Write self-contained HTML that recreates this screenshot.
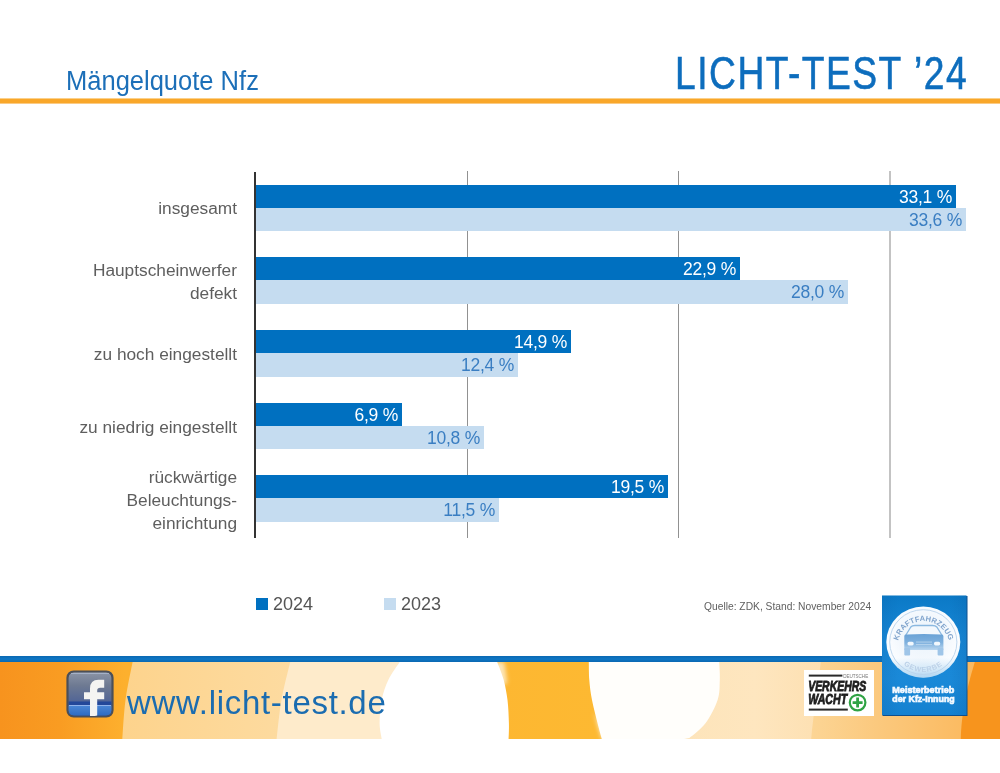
<!DOCTYPE html>
<html><head><meta charset="utf-8">
<style>
*{margin:0;padding:0;box-sizing:border-box}
html,body{width:1000px;height:773px;overflow:hidden;background:#fff}
body{position:relative;font-family:"Liberation Sans",sans-serif}
#wrap{position:absolute;left:0;top:0;width:1000px;height:773px;will-change:transform}
.abs{position:absolute}
#title{left:65.8px;top:65.7px;font-size:27px;color:#1c6fb8;white-space:nowrap;line-height:30px;transform-origin:0 0;transform:scaleX(0.945)}
#brand{left:675.2px;top:47.8px;font-size:46.5px;color:#0d6dbd;-webkit-text-stroke:0.6px #0d6dbd;letter-spacing:1.87px;white-space:nowrap;line-height:50px;transform-origin:0 0;transform:scaleX(0.8)}
#hline{left:0;top:98px;width:1000px;height:6px;background:linear-gradient(#fbd08a 0,#fbd08a 1px,#f9a72a 1px,#f9a72a 5px,#fbcb85 5px)}
.axis{left:254px;top:172px;width:2px;height:366px;background:#333}
.grid{top:171px;width:1px;height:367px;background:#919191}
.bar{left:256px;height:23px}
.d{background:#0070c0}
.l{background:#c5dcf0}
.val{position:absolute;right:4px;top:1px;font-size:17.5px;letter-spacing:-0.25px;line-height:23px;white-space:nowrap}
.d .val{color:#fff}
.l .val{color:#3a7ec2;top:1px}
.lab{right:763px;width:200px;text-align:right;font-size:17.3px;line-height:22.75px;color:#5e5e5e;white-space:nowrap;display:flex;flex-direction:column;justify-content:center;align-items:flex-end;height:120px}
.leg{font-size:18px;color:#555;line-height:20px;white-space:nowrap}
.sq{width:12px;height:12px}
#src{left:704px;top:598.5px;font-size:11px;color:#606060;white-space:nowrap;line-height:14px;transform-origin:0 0;transform:scaleX(0.933)}
#bline{left:0;top:656px;width:1000px;height:6px;background:linear-gradient(#0a68b2,#0e76c4 50%,#0a68b2)}
#band{left:0;top:662px;width:1000px;height:77px}
#url{left:127px;top:684.2px;font-size:33px;color:#1b6cb0;letter-spacing:0.7px;white-space:nowrap;line-height:38px}
</style></head><body><div id="wrap">
<div id="title" class="abs">Mängelquote Nfz</div>
<div id="brand" class="abs">LICHT-TEST ’24</div>
<div id="hline" class="abs"></div>

<!-- grid -->
<div class="abs grid" style="left:467px"></div>
<div class="abs grid" style="left:678px"></div>
<div class="abs grid" style="left:889px;width:2px;background:#c3c3c3"></div>

<!-- bars -->
<div class="abs bar d" style="top:185px;width:700px"><span class="val">33,1 %</span></div>
<div class="abs bar l" style="top:208px;width:710px"><span class="val">33,6 %</span></div>
<div class="abs bar d" style="top:257px;width:484px"><span class="val">22,9 %</span></div>
<div class="abs bar l" style="top:280px;width:592px;height:24px"><span class="val">28,0 %</span></div>
<div class="abs bar d" style="top:330px;width:315px"><span class="val">14,9 %</span></div>
<div class="abs bar l" style="top:353px;width:262px;height:24px"><span class="val">12,4 %</span></div>
<div class="abs bar d" style="top:403px;width:146px"><span class="val">6,9 %</span></div>
<div class="abs bar l" style="top:426px;width:228px"><span class="val">10,8 %</span></div>
<div class="abs bar d" style="top:475px;width:412px"><span class="val">19,5 %</span></div>
<div class="abs bar l" style="top:498px;width:243px;height:24px"><span class="val">11,5 %</span></div>

<div class="abs axis"></div>

<!-- labels -->
<div class="abs lab" style="top:148.5px">insgesamt</div>
<div class="abs lab" style="top:221.5px">Hauptscheinwerfer<br>defekt</div>
<div class="abs lab" style="top:294.5px">zu hoch eingestellt</div>
<div class="abs lab" style="top:367px">zu niedrig eingestellt</div>
<div class="abs lab" style="top:440.5px">rückwärtige<br>Beleuchtungs-<br>einrichtung</div>

<!-- legend -->
<div class="abs sq" style="left:256px;top:598px;background:#0070c0"></div>
<div class="abs leg" style="left:273px;top:594px">2024</div>
<div class="abs sq" style="left:384px;top:598px;background:#c5dcf0"></div>
<div class="abs leg" style="left:401px;top:594px">2023</div>
<div id="src" class="abs">Quelle: ZDK, Stand: November 2024</div>

<!-- footer -->
<div id="bline" class="abs"></div>
<svg id="band" class="abs" width="1000" height="77" viewBox="0 0 1000 77">
  <defs>
    <linearGradient id="gBase" x1="0" x2="1000" y1="0" y2="0" gradientUnits="userSpaceOnUse">
      <stop offset="0" stop-color="#f7931e"/>
      <stop offset="0.06" stop-color="#f99c22"/>
      <stop offset="0.125" stop-color="#fdb02e"/>
      <stop offset="0.6" stop-color="#fdb932"/>
      <stop offset="1" stop-color="#fdb932"/>
    </linearGradient>
    <linearGradient id="gA" x1="120" x2="290" y1="0" y2="0" gradientUnits="userSpaceOnUse">
      <stop offset="0" stop-color="#fdd38c"/>
      <stop offset="1" stop-color="#fddba0"/>
    </linearGradient>
    <linearGradient id="gE" x1="680" x2="830" y1="0" y2="0" gradientUnits="userSpaceOnUse">
      <stop offset="0" stop-color="#fde4ba"/>
      <stop offset="0.5" stop-color="#fee6bf"/>
      <stop offset="1" stop-color="#fddfb0"/>
    </linearGradient>
    <linearGradient id="gF" x1="810" x2="1000" y1="0" y2="0" gradientUnits="userSpaceOnUse">
      <stop offset="0" stop-color="#fcd595"/>
      <stop offset="0.35" stop-color="#fbc97e"/>
      <stop offset="0.8" stop-color="#fbbb62"/>
      <stop offset="1" stop-color="#fab558"/>
    </linearGradient>
    <filter id="halo" x="-50%" y="-50%" width="200%" height="200%"><feGaussianBlur stdDeviation="2"/></filter>
  </defs>
  <rect x="0" y="0" width="1000" height="77" fill="url(#gBase)"/>
  <path d="M132.6 0 C131.4 6.3 127.2 25.2 125.5 38 C123.8 50.8 122.8 70.5 122.3 77 L460 77 L460 0 Z" fill="url(#gA)"/>
  <path d="M290.2 0 C288.8 6.3 283.8 25.2 281.5 38 C279.2 50.8 277.4 70.5 276.6 77 L460 77 L460 0 Z" fill="#feebcb"/>
  <path d="M700 0 L1000 0 L1000 77 L680 77 Z" fill="url(#gE)"/>
  <path d="M820.8 0 C818 25 813 55 811.2 77 L1000 77 L1000 0 Z" fill="url(#gF)"/>
  <path d="M480 0 L504 0 C505 5 506.5 12 507 22 L500 22 Z" fill="#fde6b8" filter="url(#halo)"/>
  <path d="M594 50 C597 62 600 72 602 77 L624 77 C612 72 602 63 594 50 Z" fill="#fde6b8" filter="url(#halo)"/>
  <path d="M399.7 0 C397.8 3 391.3 11.7 388.3 18 C385.3 24.3 383.1 30.8 381.7 38 C380.2 45.2 379.6 54.5 379.6 61 C379.6 67.5 381.4 74.3 381.7 77 L508.6 77 C508.7 74.3 509.1 67.5 508.9 61 C508.7 54.5 508.4 45.2 507.5 38 C506.6 30.8 505.4 24.3 503.7 18 C502 11.7 498.3 3 497.2 0 Z" fill="#ffffff"/>
  <path d="M588.8 0 C588.9 3 588.8 11.7 589.3 18 C589.8 24.3 590.6 30.8 592 38 C593.4 45.2 595.9 54.5 597.5 61 C599.1 67.5 601.1 74.3 601.8 77 L684 77 C686 76.5 687 76.5 689.3 76 C692.9 73.3 701 67.3 705.7 61 C710.4 54.7 715.2 45.2 717.6 38 C720 30.8 719.5 24.3 719.8 18 C720.1 11.7 719.3 3 719.2 0 Z" fill="#fffefb"/>
  <path d="M974.8 0 C972 10 962 40 960.8 77 L1000 77 L1000 0 Z" fill="#f7941d"/>
</svg>
<div id="url" class="abs">www.licht-test.de</div>

<!-- facebook icon -->
<svg class="abs" style="left:66px;top:670px" width="48" height="48" viewBox="0 0 48 48">
  <defs>
    <linearGradient id="fbTop" x1="0" y1="0" x2="0" y2="1">
      <stop offset="0" stop-color="#8a93a5"/>
      <stop offset="0.3" stop-color="#6e7a92"/>
      <stop offset="0.75" stop-color="#4c6197"/>
      <stop offset="1" stop-color="#2d4d93"/>
    </linearGradient>
    <linearGradient id="fbBot" x1="0" y1="0" x2="0" y2="1">
      <stop offset="0" stop-color="#4a86d6"/>
      <stop offset="1" stop-color="#2f6cc2"/>
    </linearGradient>
  </defs>
  <rect x="1.2" y="1.2" width="45.6" height="45.6" rx="6.5" fill="#4b4f58"/>
  <rect x="2.6" y="2.6" width="42.8" height="42.8" rx="5.2" fill="url(#fbTop)"/>
  <path d="M2.6 35.5 L45.4 35.5 L45.4 40.2 Q45.4 45.4 40.2 45.4 L7.8 45.4 Q2.6 45.4 2.6 40.2 Z" fill="url(#fbBot)"/>
  <rect x="2.6" y="31.5" width="42.8" height="3.6" fill="#23489a"/>
  <rect x="3" y="35" width="42" height="1" fill="#8fb2ea"/>
  <path d="M5 3.4 L43 3.4" stroke="#a9b6cc" stroke-width="1" fill="none"/>
  <path d="M24 47 L24 29.3 L18 29.3 L18 22.3 L24 22.3 L24 18.5 Q24 9.7 32.5 9.7 L38.2 9.7 L38.2 17.8 L34.2 17.8 Q31.2 17.8 31.2 20.5 L31.2 22.3 L38.2 22.3 L38.2 29.3 L31.2 29.3 L31.2 45.4 Z" fill="#f4f4f2"/>
  <rect x="1.2" y="1.2" width="45.6" height="45.6" rx="6.5" fill="none" stroke="#4b4f58" stroke-width="1.6"/>
</svg>

<!-- Verkehrswacht logo -->
<div class="abs" style="left:804px;top:670px;width:70px;height:46px;background:#fff"></div>
<svg class="abs" style="left:804px;top:670px" width="70" height="46" viewBox="0 0 70 46">
  <rect x="4.8" y="4.6" width="33.6" height="2" fill="#2a2a2a"/>
  <text x="39.2" y="8.3" font-family="Liberation Sans" font-size="5.2" fill="#777" textLength="25" lengthAdjust="spacingAndGlyphs">DEUTSCHE</text>
  <text x="4.2" y="21.3" font-family="Liberation Sans" font-weight="700" font-style="italic" font-size="14.6" fill="#1e1e1e" stroke="#1e1e1e" stroke-width="0.85" textLength="58" lengthAdjust="spacingAndGlyphs">VERKEHRS</text>
  <text x="4.2" y="34.2" font-family="Liberation Sans" font-weight="700" font-style="italic" font-size="14.6" fill="#1e1e1e" stroke="#1e1e1e" stroke-width="0.85" textLength="39" lengthAdjust="spacingAndGlyphs">WACHT</text>
  <rect x="4.8" y="38.6" width="39" height="2" fill="#2a2a2a"/>
  <circle cx="53.6" cy="32.6" r="7.8" fill="#fff" stroke="#2fa344" stroke-width="2.2"/>
  <path d="M53.6 27.6 L53.6 37.6 M48.6 32.6 L58.6 32.6" stroke="#2fa344" stroke-width="2.8"/>
</svg>

<!-- Meisterbetrieb badge -->
<svg class="abs" style="left:881px;top:594px" width="88" height="125" viewBox="0 0 88 125">
  <defs>
    <linearGradient id="bdg" x1="0" y1="0" x2="0" y2="1">
      <stop offset="0" stop-color="#0b79c6"/>
      <stop offset="0.35" stop-color="#1787d6"/>
      <stop offset="0.7" stop-color="#1a89d8"/>
      <stop offset="1" stop-color="#1581d0"/>
    </linearGradient>
    <linearGradient id="bdgv" x1="0" y1="0" x2="1" y2="0">
      <stop offset="0" stop-color="#0b4f90" stop-opacity="0.12"/>
      <stop offset="0.2" stop-color="#0b4f90" stop-opacity="0"/>
      <stop offset="0.8" stop-color="#0b4f90" stop-opacity="0"/>
      <stop offset="1" stop-color="#0b4f90" stop-opacity="0.15"/>
    </linearGradient>
    <radialGradient id="cir" cx="0.5" cy="0.42" r="0.55">
      <stop offset="0" stop-color="#eaf3fb"/>
      <stop offset="0.6" stop-color="#f3f8fd"/>
      <stop offset="0.88" stop-color="#fbfdff"/>
      <stop offset="1" stop-color="#f2f8fd"/>
    </radialGradient>
    <linearGradient id="cirfade" x1="0" y1="0" x2="0" y2="1">
      <stop offset="0.72" stop-color="#1a89d8" stop-opacity="0"/>
      <stop offset="1" stop-color="#1a89d8" stop-opacity="0.3"/>
    </linearGradient>
    <linearGradient id="car" x1="0" y1="0" x2="0" y2="1">
      <stop offset="0" stop-color="#6aa2d6"/>
      <stop offset="0.55" stop-color="#7fb1de"/>
      <stop offset="1" stop-color="#b9d6ef"/>
    </linearGradient>
    <path id="arcTop" d="M16.3 53.2 A26.2 26.2 0 0 1 68.7 53.2"/>
    <path id="arcBot" d="M12.5 48.1 A29.8 29.8 0 0 0 72.1 48.1"/>
    <filter id="bl" x="-20%" y="-20%" width="140%" height="140%"><feGaussianBlur stdDeviation="0.6"/></filter>
  </defs>
  <rect x="1.5" y="2" width="85" height="120" fill="#0f4f8c"/>
  <rect x="1" y="1.5" width="84.5" height="119.5" fill="url(#bdg)"/>
  <rect x="1" y="1.5" width="84.5" height="119.5" fill="url(#bdgv)"/>
  <ellipse cx="42.3" cy="48.1" rx="37" ry="35.6" fill="url(#cir)" filter="url(#bl)"/>
  <ellipse cx="42.3" cy="48.1" rx="37" ry="35.6" fill="url(#cirfade)"/>
  <ellipse cx="42.3" cy="48.1" rx="33.6" ry="32.4" fill="none" stroke="#b8d3ec" stroke-width="0.9"/>
  <text font-family="Liberation Sans" font-weight="700" font-size="7.5" fill="#7fa3cc" letter-spacing="0.15"><textPath href="#arcTop" startOffset="50%" text-anchor="middle">KRAFTFAHRZEUG</textPath></text>
  <text font-family="Liberation Sans" font-weight="700" font-size="7.2" fill="#bcd1e8" letter-spacing="0.8"><textPath href="#arcBot" startOffset="50%" text-anchor="middle">GEWERBE</textPath></text>
  <!-- car -->
  <path d="M24.3 42 L29.8 33 Q31 31.5 34 31.5 L51.5 31.5 Q54.5 31.5 55.8 33 L61.4 42" fill="#f3f8fd" stroke="#8ab8e0" stroke-width="1.3"/>
  <path d="M23.3 42 Q23.3 40.5 26 40.6 Q42.8 39.6 59.6 40.6 Q62.4 40.5 62.4 42 L62.4 56 L23.3 56 Z" fill="url(#car)"/>
  <rect x="23.3" y="54" width="5.8" height="7.4" rx="1" fill="#9fc5e8"/>
  <rect x="56.6" y="54" width="5.8" height="7.4" rx="1" fill="#9fc5e8"/>
  <rect x="26.5" y="47.8" width="6.2" height="3.6" rx="1.6" fill="#f2f8fd"/>
  <rect x="53" y="47.8" width="6.2" height="3.6" rx="1.6" fill="#f2f8fd"/>
  <rect x="35" y="47.6" width="16" height="0.9" fill="#b7d4ee"/>
  <rect x="35" y="50" width="16" height="0.9" fill="#b7d4ee"/>
  <g font-family="Liberation Sans" font-weight="700" font-size="9.2" fill="#f4f9ff" stroke="#f4f9ff" stroke-width="0.7" text-anchor="middle">
  <text x="42.3" y="99.2" textLength="62" lengthAdjust="spacingAndGlyphs">Meisterbetrieb</text>
  <text x="42.5" y="107.8" textLength="62.4" lengthAdjust="spacingAndGlyphs">der Kfz-Innung</text>
  </g>
</svg>
</div></body></html>
